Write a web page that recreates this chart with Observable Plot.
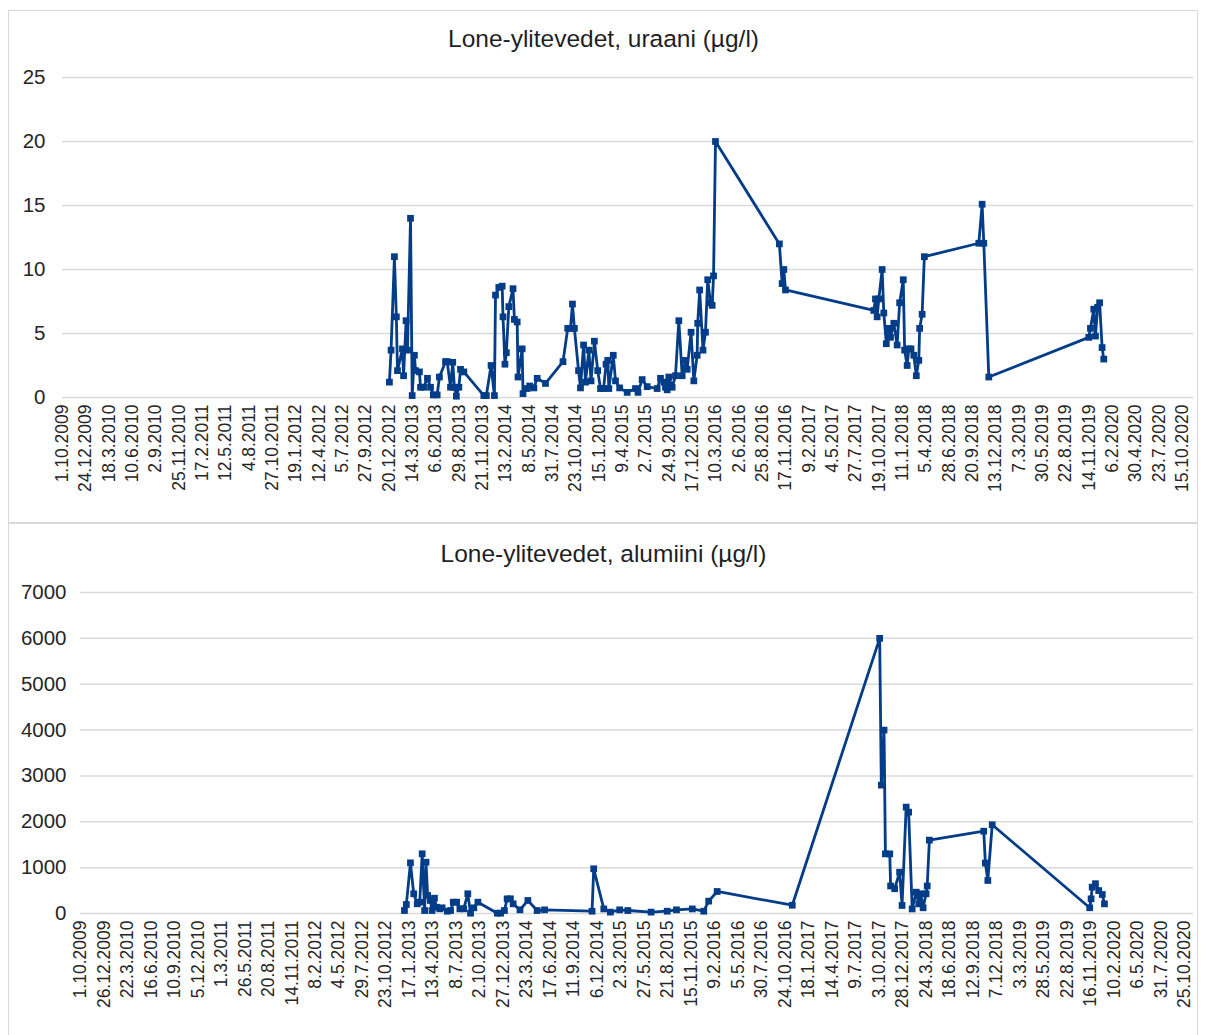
<!DOCTYPE html>
<html>
<head>
<meta charset="utf-8">
<script src="https://cdn.jsdelivr.net/npm/d3@7"></script>
<script src="https://cdn.jsdelivr.net/npm/@observablehq/plot@0.6"></script>
<style>
  body { margin: 0; background: #fff; font-family: "Liberation Sans", Arial, sans-serif; }
  #page { position: relative; width: 1207px; height: 1035px; overflow: hidden; background: #fff; }
  .box { position: absolute; border: 1.5px solid #d9d9d9; box-sizing: border-box; }
  .title { position: absolute; left: 0; width: 1207px; text-align: center; font-size: 24.5px; color: #1f1f1f; }
  .chart { position: absolute; left: 0; }
</style>
</head>
<body>
<div id="page">
  <div class="box" style="left:8px; top:10px; width:1190px; height:514px;"></div>
  <div class="box" style="left:8px; top:522px; width:1190px; height:530px;"></div>
  <div class="title" style="top:25px;">Lone-ylitevedet, uraani (µg/l)</div>
  <div class="title" style="top:540px;">Lone-ylitevedet, alumiini (µg/l)</div>
  <div class="chart" id="c1" style="top:0px;"></div>
  <div class="chart" id="c2" style="top:522px;"></div>
</div>
<script>
// ---- Uraani (µg/l) ----
const uraaniDates = [
  "2012-12-21","2012-12-27","2013-01-08","2013-01-15","2013-01-19","2013-02-06","2013-02-10","2013-02-19",
  "2013-02-24","2013-03-07","2013-03-13","2013-03-21","2013-03-25","2013-04-08","2013-04-12","2013-04-23",
  "2013-05-07","2013-05-18","2013-05-28","2013-06-11","2013-06-19","2013-07-11","2013-07-17","2013-07-29",
  "2013-08-06","2013-08-12","2013-08-19","2013-08-28","2013-09-03","2013-09-15","2013-11-26","2013-12-05",
  "2013-12-22","2014-01-03","2014-01-07","2014-01-19","2014-01-31","2014-02-03","2014-02-10","2014-02-15",
  "2014-02-24","2014-03-11","2014-03-16","2014-03-26","2014-03-29","2014-04-13","2014-04-16","2014-05-01",
  "2014-05-10","2014-05-25","2014-06-06","2014-07-06","2014-09-07","2014-09-24","2014-10-04","2014-10-11",
  "2014-10-18","2014-11-02","2014-11-09","2014-11-20","2014-11-27","2014-12-09","2014-12-17","2014-12-29",
  "2015-01-10","2015-01-20","2015-01-31","2015-02-09","2015-02-15","2015-02-19","2015-03-07","2015-03-15",
  "2015-03-30","2015-04-26","2015-05-26","2015-06-04","2015-06-19","2015-07-07","2015-08-12","2015-08-24",
  "2015-09-05","2015-09-11","2015-09-17","2015-09-23","2015-10-05","2015-10-17","2015-10-29","2015-11-10",
  "2015-11-22","2015-11-28","2015-12-12","2015-12-22","2016-01-03","2016-01-05","2016-01-12","2016-01-24",
  "2016-02-02","2016-02-10","2016-02-20","2016-02-26","2016-03-02","2016-03-09","2016-10-25","2016-11-04",
  "2016-11-10","2016-11-16","2017-09-30","2017-10-06","2017-10-12","2017-10-18","2017-10-30","2017-11-05",
  "2017-11-14","2017-11-23","2017-11-29","2017-12-11","2017-12-23","2018-01-01","2018-01-14","2018-01-19",
  "2018-01-28","2018-02-03","2018-02-11","2018-02-21","2018-03-02","2018-03-11","2018-03-14","2018-03-23",
  "2018-03-31","2018-10-13","2018-10-25","2018-10-31","2018-11-18","2019-11-13","2019-11-19","2019-12-01",
  "2019-12-07","2019-12-15","2019-12-22","2019-12-31","2020-01-06"
];
const uraaniValues = [
  1.2,3.7,11.0,6.3,2.1,3.8,1.7,6.0,
  3.7,14.0,0.15,3.3,2.1,2.0,0.8,0.8,
  1.5,0.8,0.2,0.2,1.6,2.8,2.8,0.8,
  2.75,0.8,0.1,0.8,2.2,2.0,0.15,0.15,
  2.5,0.15,8.0,8.6,8.7,6.3,2.6,3.5,
  7.1,8.5,6.1,5.9,1.6,3.8,0.3,0.7,
  0.9,0.75,1.5,1.1,2.8,5.4,5.4,7.3,
  5.4,2.1,0.75,4.1,1.2,3.7,1.3,4.4,
  2.1,0.7,0.7,2.6,2.9,0.7,3.3,1.3,
  0.75,0.4,0.7,0.4,1.4,0.85,0.7,1.5,
  1.2,0.8,0.6,1.6,0.8,1.7,6.0,1.7,
  2.9,2.2,5.1,1.3,3.3,5.8,8.4,3.7,
  5.1,9.2,7.4,7.2,9.5,20.0,12.0,8.9,
  10.0,8.4,6.8,7.7,6.3,7.7,10.0,6.6,
  4.2,5.4,4.7,5.8,4.1,7.4,9.2,3.7,
  2.5,3.8,3.8,3.3,1.7,2.9,5.4,6.5,
  11.0,12.05,15.1,12.05,1.6,4.7,5.4,6.9,
  4.8,7.05,7.4,3.9,3.0
];
const uraaniTickLabels = [
  "1.10.2009","24.12.2009","18.3.2010","10.6.2010","2.9.2010","25.11.2010","17.2.2011","12.5.2011",
  "4.8.2011","27.10.2011","19.1.2012","12.4.2012","5.7.2012","27.9.2012","20.12.2012","14.3.2013",
  "6.6.2013","29.8.2013","21.11.2013","13.2.2014","8.5.2014","31.7.2014","23.10.2014","15.1.2015",
  "9.4.2015","2.7.2015","24.9.2015","17.12.2015","10.3.2016","2.6.2016","25.8.2016","17.11.2016",
  "9.2.2017","4.5.2017","27.7.2017","19.10.2017","11.1.2018","5.4.2018","28.6.2018","20.9.2018",
  "13.12.2018","7.3.2019","30.5.2019","22.8.2019","14.11.2019","6.2.2020","30.4.2020","23.7.2020",
  "15.10.2020"
];
const uraaniYTicks = [0, 5, 10, 15, 20, 25];

// ---- Alumiini (µg/l) ----
const alumiiniDates = [
  "2012-12-30","2013-01-06","2013-01-21","2013-02-02","2013-02-15","2013-02-24","2013-03-05","2013-03-14",
  "2013-03-19","2013-03-25","2013-04-04","2013-04-10","2013-04-19","2013-04-26","2013-05-08","2013-05-17",
  "2013-06-05","2013-06-17","2013-06-27","2013-07-09","2013-07-21","2013-08-04","2013-08-19","2013-08-29",
  "2013-09-10","2013-09-25","2013-12-05","2013-12-17","2013-12-31","2014-01-10","2014-01-22","2014-02-01",
  "2014-02-26","2014-03-27","2014-04-30","2014-05-27","2014-11-17","2014-11-23","2014-12-30","2015-01-23",
  "2015-02-26","2015-03-28","2015-06-21","2015-08-19","2015-09-22","2015-11-19","2015-12-31","2016-01-18",
  "2016-02-18","2016-11-19","2017-10-05","2017-10-11","2017-10-21","2017-10-26","2017-11-11","2017-11-14",
  "2017-11-29","2017-12-17","2017-12-26","2018-01-10","2018-01-19","2018-02-01","2018-02-16","2018-02-25",
  "2018-03-04","2018-03-13","2018-03-24","2018-03-28","2018-04-05","2018-10-21","2018-10-27","2018-11-05",
  "2018-11-21","2019-11-13","2019-11-18","2019-11-22","2019-12-04","2019-12-16","2019-12-29","2020-01-06"
];
const alumiiniValues = [
  65,196,1105,430,211,247,1302,65,
  1119,393,284,65,334,137,102,124,
  50,65,247,247,102,102,430,7,
  124,247,7,7,65,320,320,211,
  80,284,65,80,50,975,100,30,
  80,65,30,50,80,100,50,270,
  480,180,6000,2800,4000,1300,1300,600,
  540,900,175,2320,2210,100,465,210,
  430,125,430,600,1600,1795,1100,720,
  1935,125,320,575,650,500,415,210
];
const alumiiniTickLabels = [
  "1.10.2009","26.12.2009","22.3.2010","16.6.2010","10.9.2010","5.12.2010","1.3.2011","26.5.2011",
  "20.8.2011","14.11.2011","8.2.2012","4.5.2012","29.7.2012","23.10.2012","17.1.2013","13.4.2013",
  "8.7.2013","2.10.2013","27.12.2013","23.3.2014","17.6.2014","11.9.2014","6.12.2014","2.3.2015",
  "27.5.2015","21.8.2015","15.11.2015","9.2.2016","5.5.2016","30.7.2016","24.10.2016","18.1.2017",
  "14.4.2017","9.7.2017","3.10.2017","28.12.2017","24.3.2018","18.6.2018","12.9.2018","7.12.2018",
  "3.3.2019","28.5.2019","22.8.2019","16.11.2019","10.2.2020","6.5.2020","31.7.2020","25.10.2020"
];
const alumiiniYTicks = [0, 1000, 2000, 3000, 4000, 5000, 6000, 7000];

// ---- helpers ----
const parseISO = s => { const [y, m, d] = s.split("-").map(Number); return new Date(Date.UTC(y, m - 1, d)); };
const parseFi = s => { const [d, m, y] = s.split(".").map(Number); return new Date(Date.UTC(y, m - 1, d)); };
const fmtFi = d => `${d.getUTCDate()}.${d.getUTCMonth() + 1}.${d.getUTCFullYear()}`;
const COLOR = "#033c87";
const FONT = "Liberation Sans, Arial, sans-serif";

function makeChart({dates, values, tickLabels, yTicks, yMax, xEnd, height, mt, mb, ml, mr, yPad}) {
  const data = dates.map((d, i) => ({date: parseISO(d), value: values[i]}));
  const ticks = tickLabels.map(parseFi);
  return Plot.plot({
    width: 1207,
    height,
    marginTop: mt,
    marginBottom: mb,
    marginLeft: ml,
    marginRight: mr,
    style: {fontFamily: FONT, background: "transparent", overflow: "visible"},
    x: {type: "utc", domain: [parseFi("1.10.2009"), parseISO(xEnd)]},
    y: {domain: [0, yMax]},
    marks: [
      Plot.gridY(yTicks, {stroke: "#d9d9d9", strokeOpacity: 1, strokeWidth: 1.5}),
      Plot.axisY(yTicks, {tickSize: 0, tickPadding: yPad, fontSize: 20.5, fill: "#262626", label: null, tickFormat: d => String(d)}),
      Plot.axisX(ticks, {tickSize: 0, tickPadding: 7, tickRotate: -90, tickFormat: fmtFi, fontSize: 17.5, fill: "#262626", label: null}),
      Plot.line(data, {x: "date", y: "value", stroke: COLOR, strokeWidth: 2.8, strokeLinejoin: "round"}),
      Plot.dot(data, {x: "date", y: "value", symbol: "square", r: 3.8, fill: COLOR, stroke: null})
    ]
  });
}

document.getElementById("c1").appendChild(makeChart({
  dates: uraaniDates, values: uraaniValues, tickLabels: uraaniTickLabels, yTicks: uraaniYTicks,
  yMax: 25, xEnd: "2020-11-24", height: 522, mt: 77, mb: 125, ml: 62, mr: 14, yPad: 17
}));
document.getElementById("c2").appendChild(makeChart({
  dates: alumiiniDates, values: alumiiniValues, tickLabels: alumiiniTickLabels, yTicks: alumiiniYTicks,
  yMax: 7000, xEnd: "2020-11-27", height: 513, mt: 70, mb: 122, ml: 80, mr: 14, yPad: 14
}));
</script>
</body>
</html>
